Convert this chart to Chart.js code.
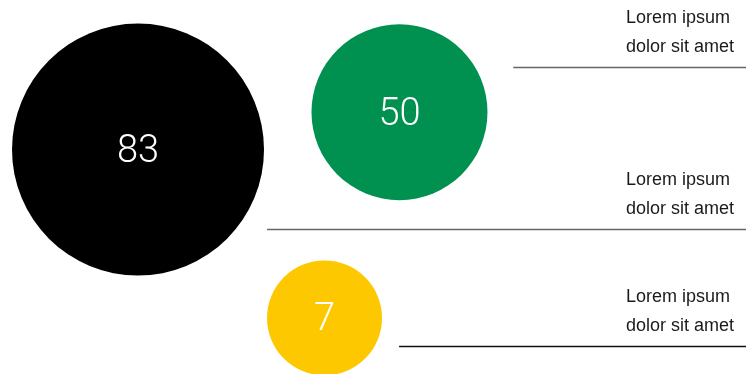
<!DOCTYPE html>
<html>
<head>
<meta charset="utf-8">
<script src="https://cdn.jsdelivr.net/npm/chart.js@4/dist/chart.umd.min.js"></script>
<style>
  html, body { margin: 0; padding: 0; background: #fff; }
  #wrap { width: 746px; height: 374px; }
</style>
</head>
<body>
<div id="wrap"><canvas id="myChart"></canvas></div>
<script>
const values = [83, 50, 7];
const captions = [
    ['Lorem ipsum', 'dolor sit amet'],
    ['Lorem ipsum', 'dolor sit amet'],
    ['Lorem ipsum', 'dolor sit amet']
];
const colors = ['#000000', '#009150', '#fec800'];

// where each bubble sits on the 0..100 grid, and how big it is drawn
const bubbleX = [18.5, 53.55, 43.5];
const bubbleY = [60, 70, 15];
const bubbleR = [126, 88, 57.5];

const ctx = document.getElementById('myChart');

// value text in the middle of each bubble
const centerLabels = {
    id: 'centerLabels',
    afterDatasetsDraw(chart) {
        const c = chart.ctx;
        const meta = chart.getDatasetMeta(0);
        c.save();
        c.fillStyle = '#ffffff';
        c.font = '300 38px Roboto';
        c.textAlign = 'center';
        c.textBaseline = 'middle';
        meta.data.forEach((el, i) => {
            c.fillText(String(values[i]), el.x, el.y + 3);
        });
        c.restore();
    }
};

// horizontal rules with the two-line captions above them
const rules = {
    id: 'rules',
    afterDraw(chart, args, opts) {
        const c = chart.ctx;
        const xs = chart.scales.x;
        const ys = chart.scales.y;
        c.save();
        opts.items.forEach((item, i) => {
            const y = Math.round(ys.getPixelForValue(item.y)) + 0.5;
            c.strokeStyle = item.color;
            c.lineWidth = 1.5;
            c.beginPath();
            c.moveTo(xs.getPixelForValue(item.from), y);
            c.lineTo(chart.width, y);
            c.stroke();

            c.fillStyle = '#1a1a1a';
            c.font = '18px "Liberation Sans"';
            c.textAlign = 'left';
            c.textBaseline = 'middle';
            const tx = xs.getPixelForValue(opts.textX);
            c.fillText(captions[i][0], tx, y - 49);
            c.fillText(captions[i][1], tx, y - 20);
        });
        c.restore();
    }
};

new Chart(ctx, {
    type: 'bubble',
    data: {
        datasets: [{
            data: values.map((v, i) => ({ x: bubbleX[i], y: bubbleY[i], r: bubbleR[i], v: v })),
            backgroundColor: colors,
            hoverBackgroundColor: colors,
            borderWidth: 0,
            hoverBorderWidth: 0,
            hoverRadius: 0,
            clip: false
        }]
    },
    options: {
        responsive: true,
        maintainAspectRatio: false,
        animation: false,
        events: [],
        layout: { padding: 0, autoPadding: false },
        scales: {
            x: { type: 'linear', min: 0, max: 100, display: false },
            y: { type: 'linear', min: 0, max: 100, display: false }
        },
        plugins: {
            legend: { display: false },
            tooltip: { enabled: false },
            rules: {
                textX: 83.9,
                items: [
                    { y: 82.1, from: 68.8, color: '#666666' },
                    { y: 38.8, from: 35.8, color: '#666666' },
                    { y: 7.5, from: 53.5, color: '#111111' }
                ]
            }
        }
    },
    plugins: [centerLabels, rules]
});
</script>
</body>
</html>
